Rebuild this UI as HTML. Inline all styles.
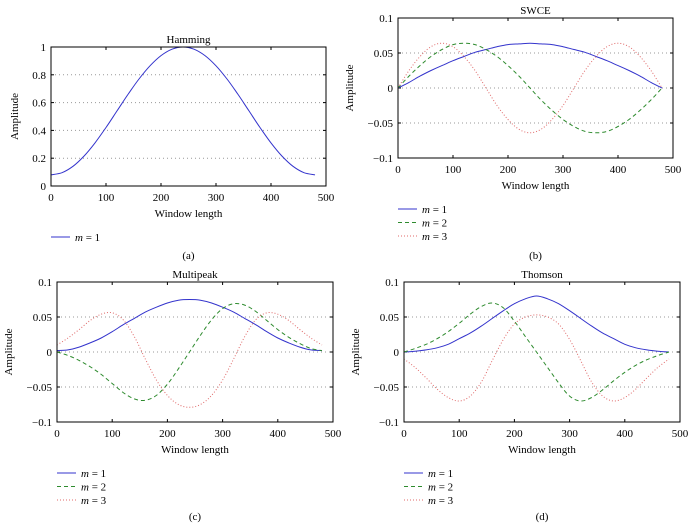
<!DOCTYPE html>
<html><head><meta charset="utf-8"><style>
body{margin:0;background:#fff}
svg{display:block;font-family:"Liberation Serif",serif;}
</style></head><body>
<svg id="c" width="694" height="530" viewBox="0 0 694 530" xmlns="http://www.w3.org/2000/svg"></svg>
<script>
const xs=[0,20,40,60,80,100,120,140,160,180,200,220,240,260,280,300,320,340,360,380,400,420,440,460,480];
const hammingM1=[.08,.096,.142,.215,.31,.421,.54,.659,.77,.865,.938,.984,1,.984,.938,.865,.77,.659,.54,.421,.31,.215,.142,.096,.08];
const swceM1=[0,.008,.017,.025,.032,.039,.045,.051,.055,.059,.062,.063,.064,.063,.062,.059,.055,.051,.045,.039,.032,.025,.017,.008,0];
const swceM2=[0,.017,.032,.045,.055,.062,.064,.062,.055,.045,.032,.017,0,-.017,-.032,-.045,-.055,-.062,-.064,-.062,-.055,-.045,-.032,-.017,0];
const swceM3=[0,.025,.045,.059,.064,.059,.045,.025,0,-.025,-.045,-.059,-.064,-.059,-.045,-.025,0,.025,.045,.059,.064,.059,.045,.025,0];
const multiM1=[.002,.003,.007,.013,.020,.029,.039,.048,.057,.064,.070,.074,.075,.074,.070,.064,.057,.048,.039,.029,.020,.013,.007,.003,.002];
const multiM2=[0,-.005,-.012,-.021,-.032,-.045,-.058,-.067,-.069,-.062,-.046,-.024,0,.024,.046,.062,.069,.067,.058,.045,.032,.021,.012,.005,.002];
const multiM3=[.01,.02,.032,.045,.054,.056,.046,.022,-.01,-.04,-.062,-.075,-.079,-.075,-.062,-.04,-.01,.022,.046,.056,.054,.045,.032,.02,.01];
const thomM1=[0,.001,.003,.006,.011,.019,.027,.037,.048,.059,.069,.076,.08,.076,.069,.059,.048,.037,.027,.019,.011,.006,.003,.001,0];
const thomM2=[0,.005,.011,.019,.029,.041,.054,.065,.07,.063,.044,.022,0,-.022,-.044,-.063,-.07,-.065,-.054,-.041,-.029,-.019,-.011,-.005,0];
const thomM3=[-.01,-.022,-.037,-.053,-.065,-.07,-.063,-.043,-.012,.018,.04,.05,.053,.05,.04,.018,-.012,-.043,-.063,-.07,-.065,-.053,-.037,-.022,-.01];
const xTicks=[0,100,200,300,400,500];
const yTicksA=[0,0.2,0.4,0.6,0.8,1];
const yTicksB=[-0.1,-0.05,0,0.05,0.1];
const yLabelsB=["\u22120.1","\u22120.05","0","0.05","0.1"];
const yLabelsA=["0","0.2","0.4","0.6","0.8","1"];

const svg=document.getElementById('c');
const NS="http://www.w3.org/2000/svg";
function el(t,a,p){const e=document.createElementNS(NS,t);for(const k in a)e.setAttribute(k,a[k]);(p||svg).appendChild(e);return e;}
const styles={
 m1:{stroke:"#3333cc",dash:""},
 m2:{stroke:"#2e8b2e",dash:"4,3"},
 m3:{stroke:"#e06a6a",dash:"1,2"}
};
function smooth(P){
 let d='M'+P[0][0].toFixed(1)+','+P[0][1].toFixed(1);
 for(let i=0;i<P.length-1;i++){
  const p0=P[i-1]||P[i],p1=P[i],p2=P[i+1],p3=P[i+2]||P[i+1];
  const c1=[p1[0]+(p2[0]-p0[0])/6,p1[1]+(p2[1]-p0[1])/6];
  const c2=[p2[0]-(p3[0]-p1[0])/6,p2[1]-(p3[1]-p1[1])/6];
  d+='C'+c1.map(v=>v.toFixed(1))+' '+c2.map(v=>v.toFixed(1))+' '+p2.map(v=>v.toFixed(1));
 }
 return d;
}
function panel(o){
 const g=el('g',{});
 
 
 const X=v=>o.l+(v-0)/500*(o.r-o.l);
 const Y=v=>o.b-(v-o.ymin)/(o.ymax-o.ymin)*(o.b-o.t);
 o.yt.forEach((v,i)=>{
  if(v!==o.ymin&&v!==o.ymax){
   const gl=el('line',{x1:o.l,x2:o.r,y1:Y(v),y2:Y(v),stroke:"#999","stroke-width":1,"stroke-dasharray":"1,3"},g);
   
   
  }
  const t=el('text',{x:o.l-5,y:Y(v)+4,"text-anchor":"end","font-size":11},g);
  t.textContent=o.yl[i];
  
  
  el('line',{x1:o.l,x2:o.l+3,y1:Y(v),y2:Y(v),stroke:"#000"},g);
  el('line',{x1:o.r,x2:o.r-3,y1:Y(v),y2:Y(v),stroke:"#000"},g);
 });
 xTicks.forEach(v=>{
  const t=el('text',{x:X(v),y:o.b+15,"text-anchor":"middle","font-size":11},g);
  t.textContent=v;
  
  
  el('line',{x1:X(v),x2:X(v),y1:o.b,y2:o.b-3,stroke:"#000"},g);
  el('line',{x1:X(v),x2:X(v),y1:o.t,y2:o.t+3,stroke:"#000"},g);
 });
 o.series.forEach((s,si)=>{
  const st=styles['m'+(si+1)];
  const d=smooth(s.map((v,i)=>[X(xs[i]),Y(v)]));
  const p=el('path',{d:d,fill:"none",stroke:st.stroke,"stroke-width":1,"stroke-dasharray":st.dash},g);
  
  
  const ly=o.leg+si*13.5;
  el('line',{x1:o.l,x2:o.l+19,y1:ly,y2:ly,stroke:st.stroke,"stroke-dasharray":st.dash},g);
  const lt=el('text',{x:o.l+24,y:ly+4,"font-size":11},g);
  lt.innerHTML='<tspan font-style="italic">m</tspan> = '+(si+1);
  
  
 });
 const box=el('rect',{x:o.l,y:o.t,width:o.r-o.l,height:o.b-o.t,fill:"none",stroke:"#000","stroke-width":1},g);
 
 
 const ti=el('text',{x:(o.l+o.r)/2,y:o.t-4,"text-anchor":"middle","font-size":11},g);
 ti.textContent=o.title;
 
 
 const xl=el('text',{x:(o.l+o.r)/2,y:o.b+31,"text-anchor":"middle","font-size":11},g);
 xl.textContent="Window length";
 
 
 const yx=o.l-(o.ylx);
 const yl=el('text',{x:yx,y:(o.t+o.b)/2,"text-anchor":"middle","font-size":11,transform:`rotate(-90 ${yx} ${(o.t+o.b)/2})`},g);
 yl.textContent="Amplitude";
 
 
 const cap=el('text',{x:(o.l+o.r)/2,y:o.cap,"text-anchor":"middle","font-size":11},g);
 cap.textContent=o.capt;
 
 
}
panel({name:'panel-hamming',title:'Hamming',l:51,r:326,t:47,b:186,ymin:0,ymax:1,yt:yTicksA,yl:yLabelsA,series:[hammingM1],leg:237,cap:259,capt:'(a)',ylx:33});
panel({name:'panel-swce',title:'SWCE',l:398,r:673,t:18,b:158,ymin:-0.1,ymax:0.1,yt:yTicksB,yl:yLabelsB,series:[swceM1,swceM2,swceM3],leg:209,cap:259,capt:'(b)',ylx:45});
panel({name:'panel-multipeak',title:'Multipeak',l:57,r:333,t:282,b:422,ymin:-0.1,ymax:0.1,yt:yTicksB,yl:yLabelsB,series:[multiM1,multiM2,multiM3],leg:473,cap:520,capt:'(c)',ylx:45});
panel({name:'panel-thomson',title:'Thomson',l:404,r:680,t:282,b:422,ymin:-0.1,ymax:0.1,yt:yTicksB,yl:yLabelsB,series:[thomM1,thomM2,thomM3],leg:473,cap:520,capt:'(d)',ylx:45});
</script>
</body></html>
